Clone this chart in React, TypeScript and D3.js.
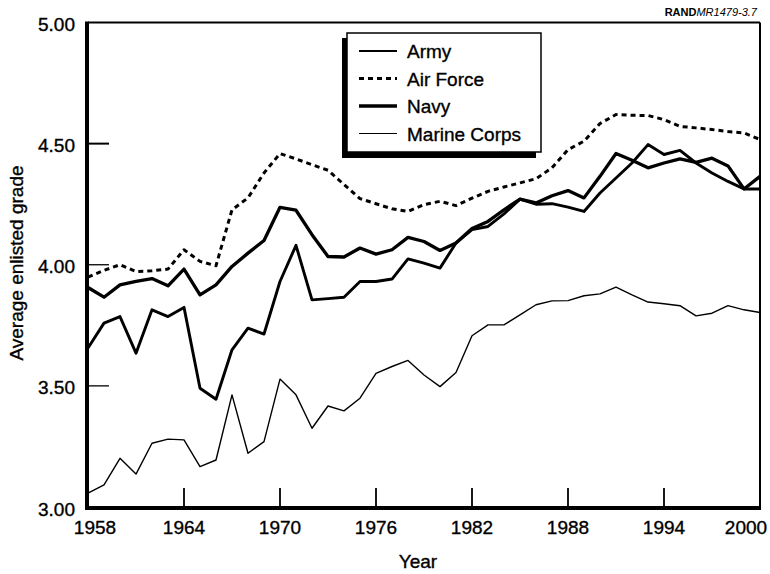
import React from "react";
import * as d3 from "d3";

const years = [
  1958, 1959, 1960, 1961, 1962, 1963, 1964, 1965, 1966, 1967, 1968, 1969, 1970,
  1971, 1972, 1973, 1974, 1975, 1976, 1977, 1978, 1979, 1980, 1981, 1982, 1983,
  1984, 1985, 1986, 1987, 1988, 1989, 1990, 1991, 1992, 1993, 1994, 1995, 1996,
  1997, 1998, 1999, 2000,
];

const army = [
  3.656, 3.759, 3.786, 3.635, 3.814, 3.786, 3.824, 3.49, 3.445, 3.649, 3.738, 3.714, 3.931,
  4.08, 3.855, 3.86, 3.866, 3.931, 3.931, 3.941, 4.024, 4.007, 3.986, 4.09, 4.145, 4.158,
  4.21, 4.271, 4.25, 4.252, 4.238, 4.22, 4.296, 4.358, 4.42, 4.496, 4.455, 4.472, 4.42,
  4.379, 4.344, 4.313, 4.313,
];

const airForce = [
  3.949, 3.977, 4.0, 3.972, 3.975, 3.982, 4.062, 4.014, 3.996, 4.227, 4.276, 4.379, 4.459,
  4.437, 4.413, 4.39, 4.331, 4.273, 4.252, 4.231, 4.22, 4.248, 4.262, 4.244, 4.275, 4.303,
  4.321, 4.338, 4.355, 4.4, 4.475, 4.51, 4.583, 4.62, 4.617, 4.616, 4.599, 4.571, 4.565,
  4.558, 4.55, 4.544, 4.517,
];

const navy = [
  3.906, 3.866, 3.917, 3.931, 3.943, 3.913, 3.982, 3.876, 3.917, 3.993, 4.048, 4.1, 4.237,
  4.225, 4.124, 4.034, 4.032, 4.069, 4.044, 4.062, 4.113, 4.096, 4.059, 4.09, 4.15, 4.179,
  4.227, 4.271, 4.255, 4.285, 4.306, 4.276, 4.365, 4.459, 4.431, 4.4, 4.42, 4.437, 4.423,
  4.44, 4.408, 4.313, 4.365,
];

const marineCorps = [
  3.057, 3.091, 3.201, 3.136, 3.263, 3.28, 3.277, 3.167, 3.194, 3.463, 3.222, 3.27, 3.528,
  3.463, 3.325, 3.417, 3.397, 3.449, 3.552, 3.58, 3.605, 3.545, 3.497, 3.555, 3.707, 3.752,
  3.752, 3.793, 3.835, 3.851, 3.852, 3.872, 3.88, 3.908, 3.876, 3.846, 3.839, 3.831, 3.789,
  3.8, 3.831, 3.814, 3.803,
];

const xTickValues = [1958, 1964, 1970, 1976, 1982, 1988, 1994, 2000];
const yTickValues = [3.0, 3.5, 4.0, 4.5, 5.0];
const seriesNames = ["Army", "Air Force", "Navy", "Marine Corps"];

const FONT = "'Liberation Sans', Arial, Helvetica, sans-serif";

export default function App() {
  const x = d3.scaleLinear().domain([1958, 2000]).range([88, 760]);
  const y = d3.scaleLinear().domain([3, 5]).range([507, 22.5]);

  const line = (vals: number[]) =>
    d3
      .line<number>()
      .x((_, i) => x(years[i]))
      .y((d) => y(d))(vals) as string;

  const series = [
    { name: seriesNames[0], vals: army, w: 2.9, dash: undefined as string | undefined, lw: 2.2 },
    { name: seriesNames[1], vals: airForce, w: 3, dash: "5,4", lw: 3 },
    { name: seriesNames[2], vals: navy, w: 3.3, dash: undefined, lw: 3.6 },
    { name: seriesNames[3], vals: marineCorps, w: 1.4, dash: undefined, lw: 1.1 },
  ];

  const [x0, x1] = x.range();
  const yBottom = y(3);
  const yTop = y(5);

  const xLabelShift = (v: number) => (v === 1958 ? 7 : v === 2000 ? -14 : 0);
  const textStroke = { stroke: "#000", strokeWidth: 0.35 };

  return (
    <svg
      width={770}
      height={574}
      style={{ position: "absolute", left: 0, top: 0, background: "#fff" }}
      fontFamily={FONT}
    >
      <rect x={0} y={0} width={770} height={574} fill="#fff" />

      {/* data lines */}
      {series.map((s) => (
        <path
          key={s.name}
          d={line(s.vals)}
          fill="none"
          stroke="#000"
          strokeWidth={s.w}
          strokeDasharray={s.dash}
          strokeLinejoin="round"
        />
      ))}

      {/* frame */}
      <line x1={x0} x2={x1} y1={yTop} y2={yTop} stroke="#000" strokeWidth={2} />
      <line x1={x1} x2={x1} y1={yTop} y2={yBottom} stroke="#000" strokeWidth={2} />
      <line x1={x0 - 1} x2={x0 - 1} y1={yTop - 1} y2={yBottom + 2} stroke="#000" strokeWidth={4} />
      <line x1={x0 - 3} x2={x1 + 1} y1={yBottom + 1} y2={yBottom + 1} stroke="#000" strokeWidth={4} />

      {/* y ticks */}
      {yTickValues
        .filter((v) => v > 3 && v < 5)
        .map((v) => (
          <line
            key={"yt" + v}
            x1={x0}
            x2={x0 + 21}
            y1={y(v)}
            y2={y(v)}
            stroke="#000"
            strokeWidth={v === 4.5 ? 2 : 1.3}
          />
        ))}
      {yTickValues.map((v) => (
        <text
          key={"yl" + v}
          x={75}
          y={y(v) + 8.5}
          textAnchor="end"
          fontSize={19}
          fill="#000"
          {...textStroke}
        >
          {v.toFixed(2)}
        </text>
      ))}

      {/* x ticks */}
      {xTickValues
        .filter((v) => v > 1958 && v < 2000)
        .map((v) => (
          <line
            key={"xt" + v}
            x1={x(v)}
            x2={x(v)}
            y1={yBottom}
            y2={yBottom - 19}
            stroke="#000"
            strokeWidth={1.8}
          />
        ))}
      {xTickValues.map((v) => (
        <text
          key={"xl" + v}
          x={x(v) + xLabelShift(v)}
          y={534}
          textAnchor="middle"
          fontSize={19}
          fill="#000"
          {...textStroke}
        >
          {v}
        </text>
      ))}

      {/* axis titles */}
      <text x={418} y={568} textAnchor="middle" fontSize={19} fill="#000" {...textStroke}>
        Year
      </text>
      <text
        transform={`translate(23, ${263}) rotate(-90)`}
        textAnchor="middle"
        fontSize={19}
        fill="#000"
        {...textStroke}
      >
        Average enlisted grade
      </text>

      {/* legend */}
      <rect x={342} y={38} width={194} height={120} fill="#000" />
      <rect x={347} y={33} width={194} height={119} fill="#fff" stroke="#000" strokeWidth={1.5} />
      {series.map((s, i) => {
        const cy = 51 + i * 27.5;
        return (
          <g key={"lg" + s.name}>
            <line
              x1={359}
              x2={397}
              y1={cy}
              y2={cy}
              stroke="#000"
              strokeWidth={s.lw}
              strokeDasharray={s.dash}
            />
            <text x={407} y={cy + 7} fontSize={19} fill="#000" {...textStroke}>
              {s.name}
            </text>
          </g>
        );
      })}

      {/* source tag */}
      <text x={757} y={16} textAnchor="end" fontSize={11} fill="#000">
        <tspan fontWeight="bold">RAND</tspan>
        <tspan fontStyle="italic">MR1479-3.7</tspan>
      </text>
    </svg>
  );
}
